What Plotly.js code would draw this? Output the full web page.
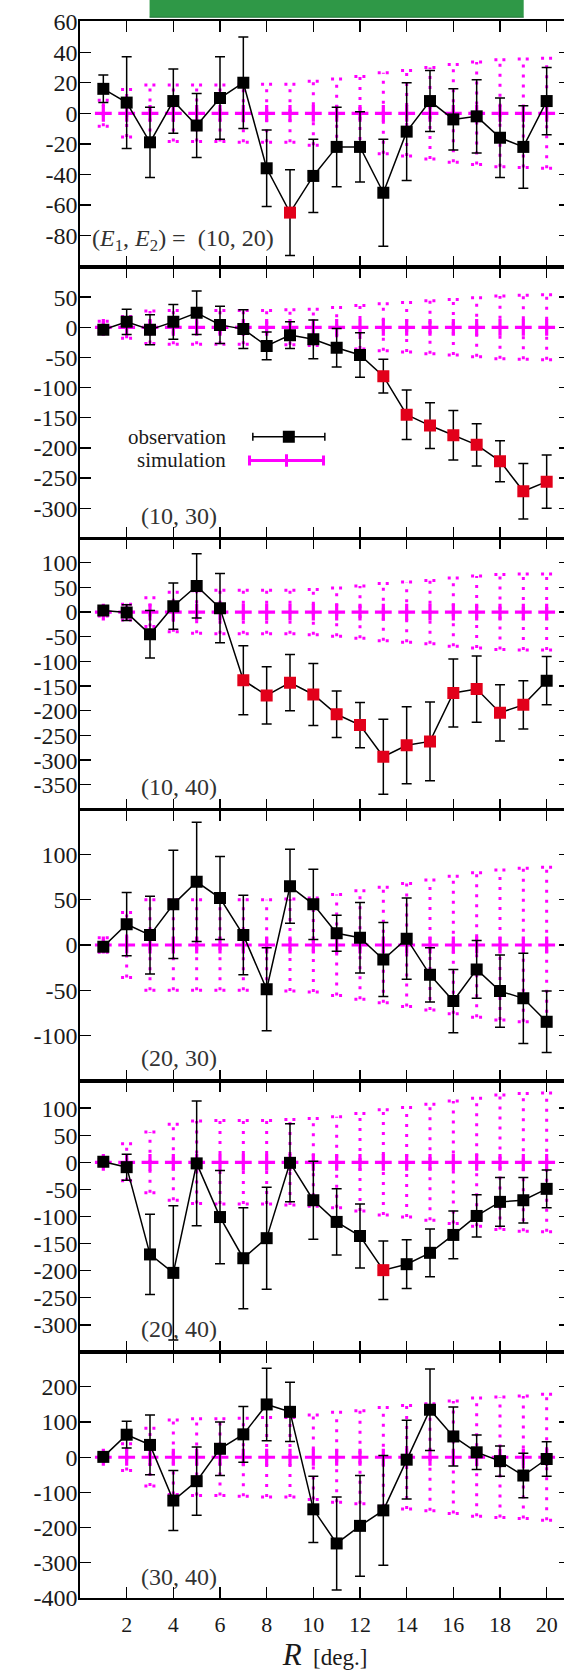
<!DOCTYPE html>
<html><head><meta charset="utf-8">
<script src="https://cdn.plot.ly/plotly-3.0.1.min.js"></script>
<style>html,body{margin:0;padding:0;overflow:hidden;background:#fff}#chart{width:572px;height:1674px}</style>
</head><body><div id="chart"></div>
<script>
// ---------- data ----------
const R = [1,2,3,4,5,6,7,8,9,10,11,12,13,14,15,16,17,18,19,20];
const simMean = [0,0,0,0,0,0,0,0,0,0,0,0,0,0,0,0,0,0,0,0];

const pairLabels = ["(10, 20)", "(10, 30)", "(10, 40)", "(20, 30)", "(20, 40)", "(30, 40)"];

const obs1 = [16, 7, -19, 8, -8, 10, 20, -36, -65, -41, -22, -22, -52, -12, 8, -4, -2, -16, -22, 8];
const err1 = [9, 30, 23, 21, 21, 27, 30, 25, 28, 24, 26, 23, 35, 32, 20, 20, 24, 26, 27, 22];
const sim1 = [8.5, 15.5, 18.5, 18.5, 18.5, 18.5, 19, 19, 19, 21, 22.5, 24, 26.5, 28, 30, 32, 33.5, 35, 35.5, 36];
const sig1 = [0,0,0,0,0,0,0,0,1,0,0,0,0,0,0,0,0,0,0,0];

const obs2 = [-4, 9, -4, 9, 24, 4, -3, -31, -13, -20, -34, -46, -81, -145, -163, -179, -195, -222, -272, -256];
const err2 = [5, 21, 25, 29, 36, 31, 32, 23, 22, 32, 32, 37, 28, 41, 38, 41, 35, 34, 46, 44];
const sim2 = [10, 18, 27, 28, 28, 28, 28, 28, 29, 30, 33, 36, 39, 41, 44, 46, 49, 52, 53, 54];
const sig2 = [0,0,0,0,0,0,0,0,0,0,0,0,1,1,1,1,1,1,1,1];

const obs3 = [3, -1, -45, 12, 53, 8, -138, -169, -143, -167, -207, -229, -293, -270, -262, -164, -156, -204, -188, -139];
const err3 = [5, 16, 48, 47, 65, 70, 70, 58, 57, 63, 47, 46, 76, 78, 80, 69, 67, 57, 49, 49];
const sim3 = [8, 16, 29, 40, 43, 44, 44, 44, 44, 46, 49, 53, 58, 61, 64, 69, 73, 76, 77, 77];
const sig3 = [0,0,0,0,0,0,1,1,1,1,1,1,1,1,1,1,1,1,1,0];

const obs4 = [-2, 23, 11, 45, 70, 52, 11, -49, 65, 45, 13, 8, -16, 7, -33, -62, -27, -51, -59, -85];
const err4 = [5, 35, 43, 60, 66, 46, 44, 46, 41, 39, 20, 39, 41, 45, 30, 35, 32, 40, 50, 34];
const sim4 = [8, 36, 50, 50, 50, 50, 50, 50, 51, 52, 56, 60, 64, 68, 72, 76, 80, 83, 85, 86];
const sig4 = [0,0,0,0,0,0,0,0,0,0,0,0,0,0,0,0,0,0,0,0];

const obs5 = [1, -9, -170, -204, -2, -101, -177, -140, -1, -70, -110, -136, -199, -188, -167, -134, -99, -73, -70, -49];
const err5 = [3, 24, 74, 124, 115, 86, 93, 94, 72, 72, 61, 59, 54, 45, 44, 44, 39, 45, 42, 35];
const sim5 = [5, 34, 56, 70, 76, 77, 77, 77, 79, 81, 84, 90, 97, 101, 107, 113, 118, 124, 127, 128];
const sig5 = [0,0,0,0,0,0,0,0,0,0,0,0,1,0,0,0,0,0,0,0];

const obs6 = [1, 64, 35, -123, -68, 24, 65, 150, 129, -148, -245, -195, -151, -7, 135, 59, 14, -11, -52, -5];
const err6 = [5, 38, 85, 85, 97, 76, 79, 103, 84, 94, 132, 143, 156, 112, 116, 84, 49, 43, 63, 49];
const sim6 = [5, 38, 82, 106, 109, 109, 111, 113, 113, 120, 128, 132, 141, 147, 152, 160, 168, 171, 174, 179];
const sig6 = [0,0,0,0,0,0,0,0,0,0,0,0,0,0,0,0,0,0,0,0];

const xTicks = [2,4,6,8,10,12,14,16,18,20];
const yTicks1 = [60,40,20,0,-20,-40,-60,-80];
const yTicks2 = [50,0,-50,-100,-150,-200,-250,-300];
const yTicks3 = [100,50,0,-50,-100,-150,-200,-250,-300,-350];
const yTicks4 = [100,50,0,-50,-100];
const yTicks5 = [100,50,0,-50,-100,-150,-200,-250,-300];
const yTicks6 = [200,100,0,-100,-200,-300,-400];

const legendNames = ["observation", "simulation"];

// ---------- layout / style ----------
const panels = [
  {obs: obs1, err: err1, sim: sim1, sig: sig1, ticks: yTicks1, range: [-100.6, 60.4], domain: [0.84401, 1.0],     labY: 0.11},
  {obs: obs2, err: err2, sim: sim2, sig: sig2, ticks: yTicks2, range: [-350, 100],    domain: [0.67197, 0.84401], labY: 0.082},
  {obs: obs3, err: err3, sim: sim3, sig: sig3, ticks: yTicks3, range: [-400, 149.5],  domain: [0.5, 0.67197],     labY: 0.083},
  {obs: obs4, err: err4, sim: sim4, sig: sig4, ticks: yTicks4, range: [-150.5, 150],  domain: [0.32784, 0.5],     labY: 0.084},
  {obs: obs5, err: err5, sim: sim5, sig: sig5, ticks: yTicks5, range: [-350, 150],    domain: [0.15599, 0.32784], labY: 0.084},
  {obs: obs6, err: err6, sim: sim6, sig: sig6, ticks: yTicks6, range: [-400, 299],    domain: [0, 0.15599],       labY: 0.084}
];

const MAG = '#ff00ff';
const RED = '#e2001a';
const FONT = '"Liberation Serif", "Times New Roman", serif';
const TXT = '#1a1a1a';
const X_RANGE = [0, 21];
const CAP_HALF = 0.24;   // cap half width of dotted bars, in x units

const traces = [];
const layout = {
  width: 572, height: 1674,
  margin: {l: 80, r: 2, t: 21, b: 76},
  showlegend: false,
  paper_bgcolor: '#fff', plot_bgcolor: '#fff',
  font: {family: FONT, size: 22, color: TXT},
  annotations: [],
  shapes: []
};

panels.forEach((p, i) => {
  const s = i === 0 ? '' : String(i + 1);
  const xa = 'x' + s, ya = 'y' + s;

  // simulation dotted error bars
  const bx = [], by = [], cx = [], cy = [];
  R.forEach((r, k) => {
    const m = simMean[k], e = p.sim[k];
    bx.push(r, r, null); by.push(m - e, m + e, null);
    cx.push(r - CAP_HALF, r + CAP_HALF, null, r - CAP_HALF, r + CAP_HALF, null);
    cy.push(m + e, m + e, null, m - e, m - e, null);
  });
  traces.push({x: bx, y: by, xaxis: xa, yaxis: ya, mode: 'lines', hoverinfo: 'skip',
    line: {color: MAG, width: 3, dash: '3px,7px'}});
  traces.push({x: cx, y: cy, xaxis: xa, yaxis: ya, mode: 'lines', hoverinfo: 'skip',
    line: {color: MAG, width: 3, dash: '3px,5px'}});
  traces.push({x: R, y: simMean, xaxis: xa, yaxis: ya, mode: 'markers', name: legendNames[1],
    marker: {symbol: 'cross-thin', size: 12, line: {color: MAG, width: 3.2}, color: MAG}});

  // observation
  traces.push({x: R, y: p.obs, xaxis: xa, yaxis: ya, mode: 'lines+markers', name: legendNames[0],
    line: {color: '#000', width: 1.5},
    marker: {symbol: 'square', size: 12, color: p.sig.map(v => v ? RED : '#000'), line: {width: 0}},
    error_y: {type: 'data', array: p.err, visible: true, color: '#000', thickness: 1.5, width: 5}});

  layout['xaxis' + s] = {
    domain: [0, 1], range: X_RANGE, anchor: ya,
    tickvals: xTicks, ticktext: xTicks.map(String), showticklabels: i === 5,
    ticks: 'inside', ticklen: 11, tickwidth: 1.3, tickcolor: '#000',
    showline: true, linecolor: '#000', linewidth: 1.6, mirror: 'ticks',
    showgrid: false, zeroline: false, fixedrange: true,
    tickfont: {family: FONT, size: 22, color: TXT}, ticklabelstandoff: 6
  };
  layout['yaxis' + s] = {
    domain: p.domain, range: p.range, anchor: xa,
    tickvals: p.ticks, ticktext: p.ticks.map(String),
    ticks: 'inside', ticklen: 11, tickwidth: 1.3, tickcolor: '#000',
    showline: true, linecolor: '#000', linewidth: 1.6, mirror: 'ticks',
    showgrid: false, zeroline: false, fixedrange: true,
    tickfont: {family: FONT, size: 24, color: TXT}, ticklabelstandoff: -4
  };

  // panel labels
  if (i === 0) {
    layout.annotations.push({xref: xa, yref: ya + ' domain', x: 0.41, y: p.labY, xanchor: 'left', yanchor: 'middle',
      showarrow: false, text: '(<i>E</i><sub>1</sub>, <i>E</i><sub>2</sub>) =  ' + pairLabels[i],
      font: {family: FONT, size: 24, color: '#333'}});
  } else {
    layout.annotations.push({xref: xa, yref: ya + ' domain', x: 4.24, y: p.labY, xanchor: 'center', yanchor: 'middle',
      showarrow: false, text: pairLabels[i], font: {family: FONT, size: 24, color: '#333'}});
  }
});

// legend (inside panel 2)
const LEG = {textX: 6.33, obsY: -181.4, simY: -220.9, obsKeyX: 8.95, obsHalf: 1.543, simKeyX: 8.85, simHalf: 1.586};
layout.annotations.push({xref: 'x2', yref: 'y2', x: LEG.textX, y: LEG.obsY, xanchor: 'right', yanchor: 'middle',
  showarrow: false, text: legendNames[0], font: {family: FONT, size: 21, color: TXT}});
layout.annotations.push({xref: 'x2', yref: 'y2', x: LEG.textX, y: LEG.simY, xanchor: 'right', yanchor: 'middle',
  showarrow: false, text: legendNames[1], font: {family: FONT, size: 21, color: TXT}});
traces.push({x: [LEG.obsKeyX], y: [LEG.obsY], xaxis: 'x2', yaxis: 'y2', mode: 'markers', hoverinfo: 'skip',
  marker: {symbol: 'square', size: 12, color: '#000'},
  error_x: {type: 'data', array: [LEG.obsHalf], visible: true, color: '#000', thickness: 1.5, width: 4}});
traces.push({x: [LEG.simKeyX], y: [LEG.simY], xaxis: 'x2', yaxis: 'y2', mode: 'markers', hoverinfo: 'skip',
  marker: {symbol: 'cross-thin', size: 9, line: {color: MAG, width: 3}, color: MAG},
  error_x: {type: 'data', array: [LEG.simHalf], visible: true, color: MAG, thickness: 3, width: 5}});

// x-axis title
layout.xaxis6.title = {text: '<span style="font-size:31px"><i>R</i></span>  [deg.]', standoff: 6,
  font: {family: FONT, size: 23, color: TXT}};

// green banner at top
layout.shapes.push({type: 'rect', xref: 'paper', yref: 'paper', x0: 0.142, x1: 0.9055, y0: 1.0023, y1: 1.0135,
  fillcolor: '#2f9847', line: {width: 0}, layer: 'above'});
layout.shapes.push({type: 'line', xref: 'paper', yref: 'paper', x0: 0.142, x1: 0.9055, y0: 1.0024, y1: 1.0024,
  line: {color: '#25733a', width: 1}});

Plotly.newPlot('chart', traces, layout, {staticPlot: true, displayModeBar: false});
</script></body></html>
